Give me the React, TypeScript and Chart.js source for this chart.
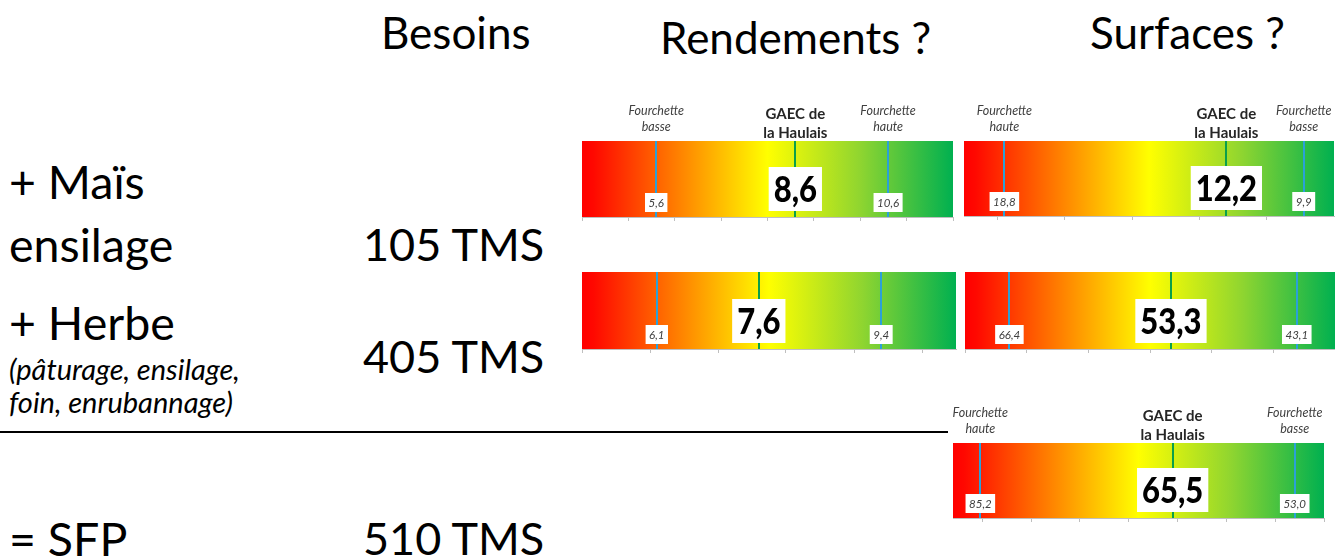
import React, { useEffect, useRef } from 'react';
import { Chart, registerables } from 'chart.js';

Chart.register(...registerables);

// Besoins en fourrage (tonnes de matière sèche)
const BESOIN_MAIS = 105;
const BESOIN_HERBE = 405;
const BESOIN_SFP = 510;

// Jauges : rendement maïs, surface maïs, rendement herbe, surface herbe, SFP
const FOURCHETTE_BASSE = [5.6, 9.9, 6.1, 43.1, 53.0];
const FOURCHETTE_HAUTE = [10.6, 18.8, 9.4, 66.4, 85.2];
const GAEC_HAULAIS = [8.6, 12.2, 7.6, 53.3, 65.5];
const AXIS_MIN = [4, 9, 5, 40, 50];
const AXIS_MAX = [12, 20, 10.5, 70, 88];
const AXIS_TICKS = [
  [4, 5, 6, 7, 8, 9, 10, 11, 12],
  [19, 17, 15, 13, 11],
  [5, 6, 7, 8, 9, 10],
  [70, 65, 60, 55, 50, 45, 40],
  [85, 80, 75, 70, 65, 60, 55, 50],
];
const AXIS_REVERSED = [false, true, false, true, true];
const SHOW_CAPTIONS = [true, true, false, false, true];

// Plot-area rectangles of each gauge on the page
const GAUGE_BOXES = [
  { l: 582, t: 141, r: 953, b: 217 },
  { l: 964, t: 141, r: 1334, b: 216 },
  { l: 582, t: 272, r: 956, b: 349 },
  { l: 965, t: 272, r: 1335, b: 349 },
  { l: 953, t: 443, r: 1324, b: 518 },
];

const FONT = 'Lato, "Open Sans", sans-serif';
const BLUE = '#2ba0d8';
const GREEN = '#0a9f4b';
const PAD = { left: 12, right: 12, top: 52, bottom: 10 };
const TICK_LEN = 4;

const fmt = (v: number) => v.toFixed(1).replace('.', ',');

const gaugeMarks = {
  id: 'gaugeMarks',
  afterDatasetsDraw(chart: any, _args: any, opts: any) {
    const i: number = opts.index;
    const { ctx, chartArea: a } = chart;
    const xs = chart.scales.x;
    const marks = [
      { v: FOURCHETTE_BASSE[i], color: BLUE, big: false, caption: ['Fourchette', 'basse'] },
      { v: FOURCHETTE_HAUTE[i], color: BLUE, big: false, caption: ['Fourchette', 'haute'] },
      { v: GAEC_HAULAIS[i], color: GREEN, big: true, caption: ['GAEC de', 'la Haulais'] },
    ];
    ctx.save();
    // repères verticaux
    marks.forEach((m) => {
      const px = Math.round(xs.getPixelForValue(m.v));
      ctx.strokeStyle = m.color;
      ctx.lineWidth = 2;
      ctx.beginPath();
      ctx.moveTo(px, a.top);
      ctx.lineTo(px, a.bottom);
      ctx.stroke();
    });
    // étiquettes de valeur
    marks.forEach((m) => {
      const px = xs.getPixelForValue(m.v);
      const t = fmt(m.v);
      ctx.textAlign = 'center';
      ctx.textBaseline = 'middle';
      if (m.big) {
        ctx.font = `900 31px ${FONT}`;
        const w = ctx.measureText(t).width;
        const bw = w + 10;
        const bh = 44;
        const by = a.bottom - 6 - bh;
        ctx.fillStyle = '#ffffff';
        ctx.fillRect(px - bw / 2, by, bw, bh);
        ctx.save();
        ctx.translate(px, by + bh / 2 + 1);
        ctx.scale(1, 1.18);
        ctx.fillStyle = '#000000';
        ctx.fillText(t, 0, 0);
        ctx.restore();
      } else {
        ctx.font = `italic 11.5px ${FONT}`;
        const w = ctx.measureText(t).width;
        const bw = w + 7;
        const bh = 19;
        const by = a.bottom - 5 - bh;
        ctx.fillStyle = '#ffffff';
        ctx.fillRect(px - bw / 2, by, bw, bh);
        ctx.fillStyle = '#404040';
        ctx.fillText(t, px, by + bh / 2 + 1);
      }
    });
    // légendes au-dessus de la jauge
    if (SHOW_CAPTIONS[i]) {
      ctx.textAlign = 'center';
      ctx.textBaseline = 'alphabetic';
      marks.forEach((m) => {
        const px = xs.getPixelForValue(m.v);
        if (m.big) {
          ctx.font = `bold 15px ${FONT}`;
          ctx.fillStyle = '#262626';
          ctx.fillText(m.caption[0], px, a.top - 22);
          ctx.fillText(m.caption[1], px, a.top - 3);
        } else {
          ctx.font = `italic 12.5px ${FONT}`;
          ctx.fillStyle = '#404040';
          ctx.fillText(m.caption[0], px, a.top - 26);
          ctx.fillText(m.caption[1], px, a.top - 10);
        }
      });
    }
    ctx.restore();
  },
};

function Gauge({ index }: { index: number }) {
  const ref = useRef<HTMLCanvasElement>(null);
  const box = GAUGE_BOXES[index];
  const width = box.r - box.l + PAD.left + PAD.right;
  const height = box.b - box.t + PAD.top + PAD.bottom;

  useEffect(() => {
    if (!ref.current) return;
    const chart = new Chart(ref.current, {
      type: 'bar',
      data: {
        labels: [''],
        datasets: [
          {
            data: [[AXIS_MIN[index], AXIS_MAX[index]]] as any,
            backgroundColor: (c: any) => {
              const a = c.chart.chartArea;
              if (!a) return '#ff0000';
              const g = c.chart.ctx.createLinearGradient(a.left, 0, a.right, 0);
              g.addColorStop(0, '#ff0000');
              g.addColorStop(0.03, '#ff0800');
              g.addColorStop(0.5, '#ffff00');
              g.addColorStop(0.75, '#8fd530');
              g.addColorStop(1, '#00b050');
              return g;
            },
            borderWidth: 0,
            barPercentage: 1,
            categoryPercentage: 1,
          },
        ],
      },
      options: {
        indexAxis: 'y',
        responsive: false,
        animation: false,
        layout: {
          padding: {
            left: PAD.left,
            right: PAD.right,
            top: PAD.top,
            bottom: PAD.bottom - TICK_LEN,
          },
        },
        plugins: {
          legend: { display: false },
          tooltip: { enabled: false },
          gaugeMarks: { index },
        } as any,
        scales: {
          x: {
            type: 'linear',
            min: AXIS_MIN[index],
            max: AXIS_MAX[index],
            reverse: AXIS_REVERSED[index],
            afterBuildTicks: (s: any) => {
              s.ticks = AXIS_TICKS[index].map((v) => ({ value: v }));
            },
            ticks: { display: false },
            grid: {
              drawOnChartArea: false,
              drawTicks: true,
              tickLength: TICK_LEN,
              color: '#bfbfbf',
            },
            border: { display: true, color: '#bfbfbf', width: 1 },
          },
          y: { display: false },
        },
      },
      plugins: [gaugeMarks],
    });
    return () => chart.destroy();
  }, [index]);

  return (
    <canvas
      ref={ref}
      width={width}
      height={height}
      style={{
        position: 'absolute',
        left: box.l - PAD.left,
        top: box.t - PAD.top,
        width,
        height,
      }}
    />
  );
}

function Label({
  x,
  base,
  size,
  italic,
  children,
}: {
  x: number;
  base: number;
  size: number;
  italic?: boolean;
  children: React.ReactNode;
}) {
  return (
    <div
      style={{
        position: 'absolute',
        left: x,
        top: base - 0.887 * size,
        fontSize: size,
        lineHeight: `${size}px`,
        fontStyle: italic ? 'italic' : 'normal',
        whiteSpace: 'nowrap',
      }}
    >
      {children}
    </div>
  );
}

export default function App() {
  return (
    <div
      style={{
        position: 'absolute',
        left: 0,
        top: 0,
        width: 1335,
        height: 556,
        overflow: 'hidden',
        background: '#ffffff',
        color: '#000000',
        fontFamily: FONT,
      }}
    >
      <Label x={381} base={49} size={44}>Besoins</Label>
      <Label x={660} base={54} size={44}>Rendements ?</Label>
      <Label x={1090} base={49} size={44}>Surfaces ?</Label>

      <Label x={9} base={199} size={46.5}>+ Maïs</Label>
      <Label x={9} base={262} size={46.5}>ensilage</Label>
      <Label x={363} base={262} size={45}>{`${BESOIN_MAIS} TMS`}</Label>

      <Label x={9} base={340} size={46.5}>+ Herbe</Label>
      <Label x={9} base={380} size={29} italic>(pâturage, ensilage,</Label>
      <Label x={9} base={413} size={29} italic>foin, enrubannage)</Label>
      <Label x={363} base={374} size={45}>{`${BESOIN_HERBE} TMS`}</Label>

      <div style={{ position: 'absolute', left: 0, top: 431, width: 948, height: 2, background: '#000' }} />

      <Label x={9} base={556} size={46.5}>= SFP</Label>
      <Label x={363} base={556} size={45}>{`${BESOIN_SFP} TMS`}</Label>

      {GAUGE_BOXES.map((_, i) => (
        <Gauge key={i} index={i} />
      ))}
    </div>
  );
}
